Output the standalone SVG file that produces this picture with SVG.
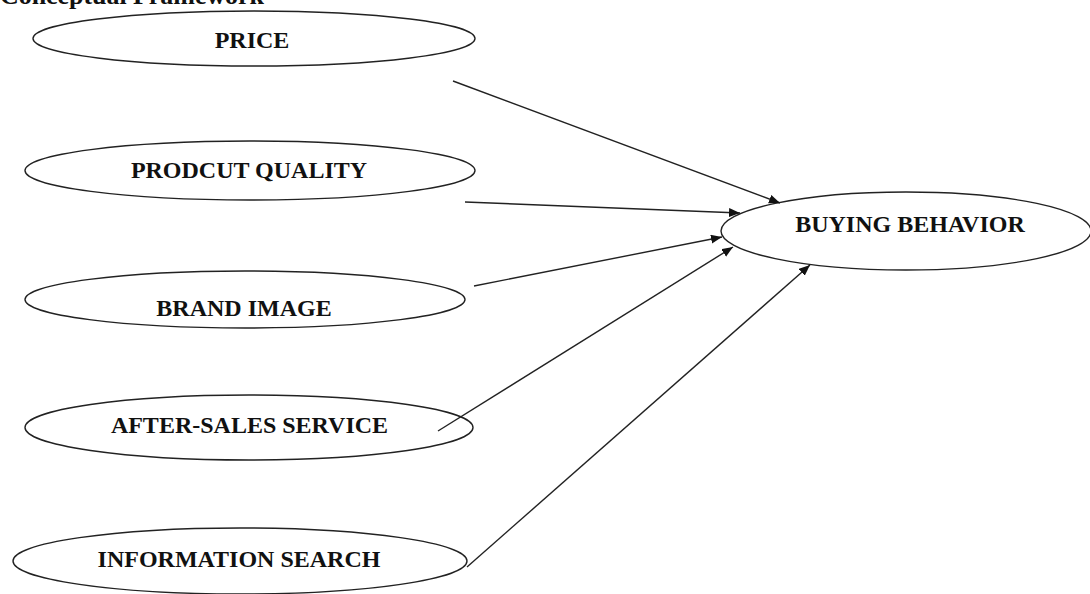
<svg xmlns="http://www.w3.org/2000/svg" width="1090" height="594" viewBox="0 0 1090 594">
<style>
.node ellipse{fill:#fff;stroke:#222;stroke-width:1.4}
.lbl{font-family:"Liberation Serif","Times New Roman",serif;font-weight:bold;font-size:24px;fill:#111;text-anchor:middle}
.title{font-family:"Liberation Serif","Times New Roman",serif;font-weight:bold;font-size:26px;fill:#111}
#connectors line{stroke:#222;stroke-width:1.4;marker-end:url(#arrow)}
</style>
<defs>
<marker id="arrow" markerUnits="userSpaceOnUse" markerWidth="12" markerHeight="10" refX="11" refY="4.5" orient="auto">
<path d="M0,0 L11,4.5 L0,9 z" fill="#111"/>
</marker>
</defs>
<rect width="1090" height="594" fill="#fff"/>
<text class="title" x="0" y="4" textLength="264">Conceptual Framework</text>
<g id="price" class="node">
<ellipse cx="254" cy="38.5" rx="221" ry="27.5"/>
<text class="lbl" x="252" y="48">PRICE</text>
</g>
<g id="product-quality" class="node">
<ellipse cx="250" cy="170.5" rx="225" ry="29.5"/>
<text class="lbl" x="249" y="178">PRODCUT QUALITY</text>
</g>
<g id="brand-image" class="node">
<ellipse cx="245" cy="299.5" rx="220" ry="28.5"/>
<text class="lbl" x="244" y="316">BRAND IMAGE</text>
</g>
<g id="after-sales" class="node">
<ellipse cx="249" cy="427.5" rx="224" ry="32.5"/>
<text class="lbl" x="249.5" y="433">AFTER-SALES SERVICE</text>
</g>
<g id="information-search" class="node">
<ellipse cx="240" cy="561" rx="227" ry="33"/>
<text class="lbl" x="239" y="567">INFORMATION SEARCH</text>
</g>
<g id="buying-behavior" class="node">
<ellipse cx="906" cy="231" rx="185" ry="39"/>
<text class="lbl" x="910" y="232">BUYING BEHAVIOR</text>
</g>
<g id="connectors">
<line x1="453" y1="81" x2="780" y2="203"/>
<line x1="465" y1="202" x2="740" y2="213"/>
<line x1="474" y1="286" x2="722" y2="237"/>
<line x1="438" y1="431" x2="733" y2="247"/>
<line x1="467" y1="567" x2="810" y2="265"/>
</g>
</svg>
